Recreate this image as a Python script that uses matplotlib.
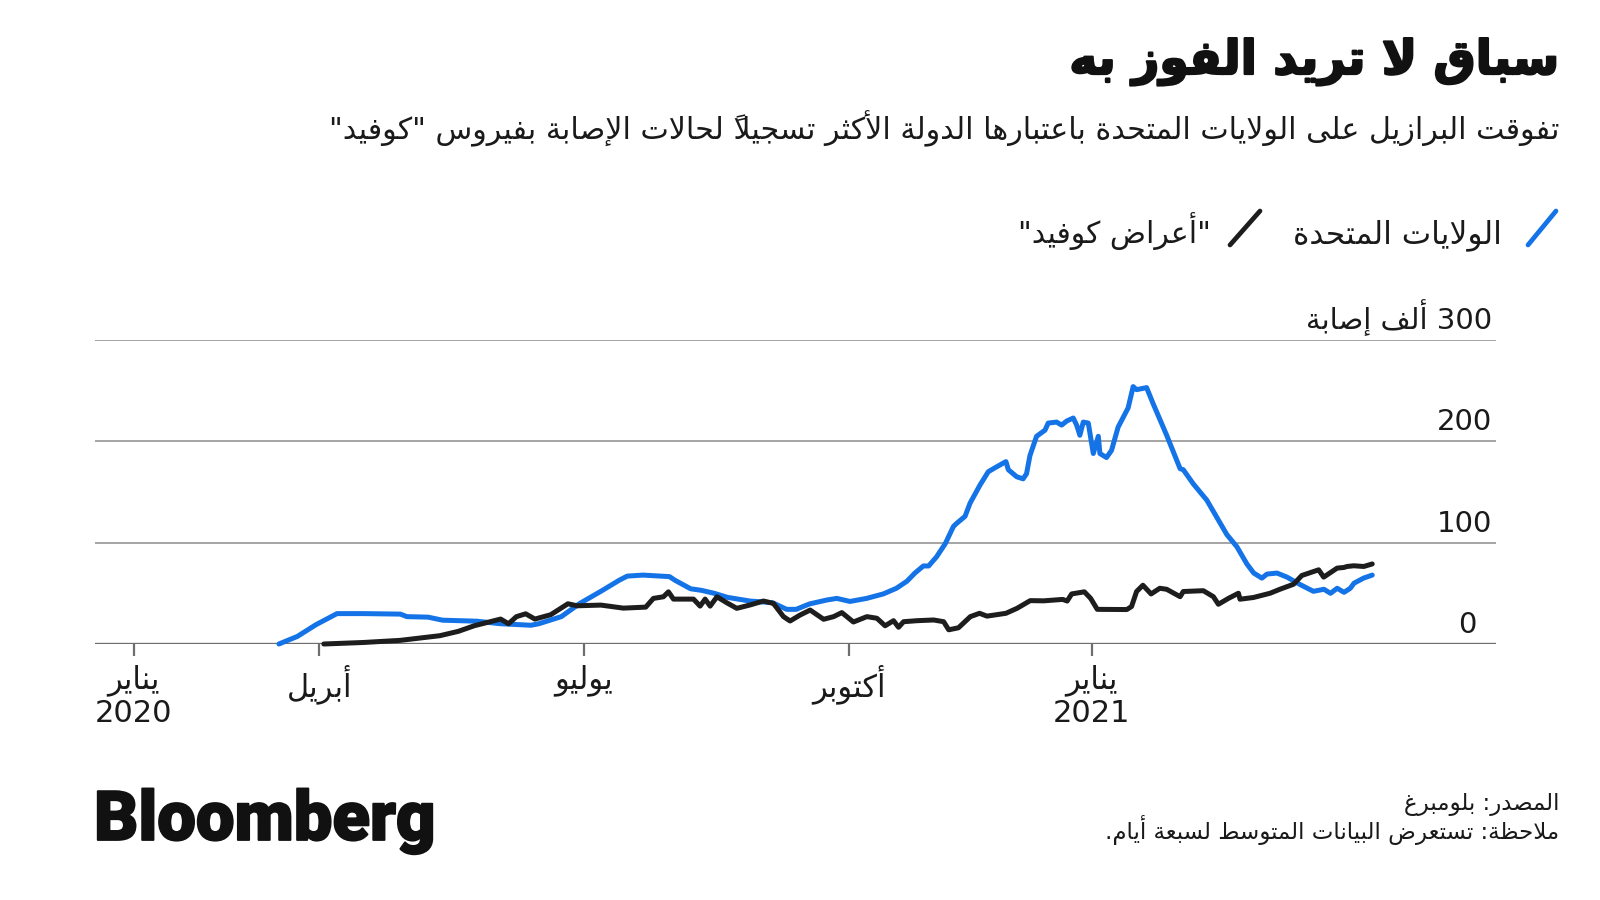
import re
import matplotlib
matplotlib.use("Agg")
import matplotlib.pyplot as plt
from matplotlib.lines import Line2D
import matplotlib.patheffects as pe

# ---------------- data (days since 1 Jan 2020, thousands of cases) ----------------
us_days = [58, 65, 72, 80, 90, 104, 106.5, 114.5, 120, 133,
           142, 153.5, 156.5, 165, 172, 180, 187, 190, 196, 206,
           208, 214, 218, 223, 228, 236.5, 245, 250.4, 254, 259,
           265.6, 269.4, 274.4, 280.7, 287, 292, 296, 299, 302.2, 304.2,
           307.2, 310.5, 313.6, 314.8, 318, 319.9, 323.7, 326.8, 329.4, 333.5,
           334.4, 337.6, 340, 341.3, 342.6, 345.1, 348.3, 349.5, 352.7, 354.6,
           356.5, 359, 360.3, 361.5, 362.8, 364.7, 366.6, 368.5, 369.1, 371.6,
           373.5, 376, 379.8, 381.7, 383, 386.8, 389.3, 394.4, 399.5, 400.7,
           404.5, 409.6, 417.2, 421, 424.8, 427.4, 430.5, 432.4, 436.2, 440,
           445, 450, 454, 456.5, 459, 461.6, 464, 465.4, 469, 472.3]
us_cases = [0, 7.5, 19, 30, 30, 29.5, 27, 26.5, 23.5, 22.5,
            20, 18.5, 20, 27, 40, 52, 63, 67, 68, 66.5,
            63, 54.5, 53, 50, 46, 42.4, 40.8, 34.2, 34.2, 39.5,
            43.4, 45, 42, 45, 49.4, 55, 62, 70, 77, 77,
            86, 99, 116, 119, 126, 139, 157, 170, 174, 180,
            172, 165, 163, 168, 186, 205, 211, 218, 219, 216,
            220, 223, 216, 206, 219, 218, 188, 205, 188, 184,
            191, 214, 233, 254, 251, 253, 237, 206, 173, 172,
            158, 142, 108, 96, 79, 70, 65, 69, 70, 66,
            58.6, 52, 54, 50, 55, 51, 55, 60, 65, 68]

br_days = [75, 90, 104, 119, 126, 132, 142, 145, 148, 151.5, 155,
           161, 167.5, 171, 180, 188.5, 197, 199.9, 203.7, 205.6, 207.5,
           215.1, 217.6, 219.5, 221.4, 224, 227.7, 231.5, 236.5, 241.6, 245.4,
           249.2, 251.7, 255.5, 259.3, 264.4, 268.2, 271.3, 275.7, 280.8, 284.6,
           287.7, 290.9, 292.8, 294.7, 299.8, 306.1, 309.9, 311.8, 315.5, 320,
           323.5, 326.3, 333.5, 337.7, 342.7, 347.8, 355, 356.7, 358.4, 363.2,
           365.6, 368.1, 379.3, 381.1, 383, 385.4, 388.5, 391.8, 394.4, 399.5,
           400.7, 408.3, 412.1, 414, 417.8, 421.6, 422.2, 427.3, 433.6, 437.4,
           442.5, 445.6, 452, 453.9, 459, 461.5, 462.8, 465.3, 469.1, 472.3]
br_cases = [0, 1.5, 3.6, 8.2, 12.5, 18, 24.6, 20, 27, 29.8, 24.6,
            28.9, 39.7, 37.7, 38.4, 35.4, 36.4, 45, 46.6, 51.5, 44.3,
            44.3, 37.4, 44.3, 37.4, 46.6, 40.7, 35.2, 38.5, 42.4, 40,
            27, 22.7, 28.6, 33.5, 24.4, 27, 31, 21.7, 27, 25.4,
            18, 23, 16.5, 22, 23, 23.7, 22, 14, 16, 27,
            30.3, 27.5, 30.3, 35.2, 42.8, 42.6, 44, 42.4, 49.4, 51.5,
            45, 34.2, 34, 37, 51.8, 58, 49.4, 55, 54, 46.7,
            51.8, 52.6, 46.7, 39.2, 45, 50.1, 44.2, 45.9, 50.1, 54.1,
            59, 67.6, 73.2, 66, 74.9, 75.5, 76.5, 77.2, 76.5, 79]

tick_days = [3, 73.3, 173.5, 274, 366]
tick_months = ["يناير", "أبريل", "يوليو", "أكتوبر", "يناير"]
tick_years = ["2020", "", "", "", "2021"]
y_ticks = [0, 100, 200, 300]
y_tick_labels = ["0", "100", "200", "300 ألف إصابة"]

title = "سباق لا تريد الفوز به"
subtitle = "تفوقت البرازيل على الولايات المتحدة باعتبارها الدولة الأكثر تسجيلاً لحالات الإصابة بفيروس \"كوفيد\""
legend_us = "الولايات المتحدة"
legend_br = "\"أعراض كوفيد\""
source = "المصدر: بلومبرغ"
note = "ملاحظة: تستعرض البيانات المتوسط لسبعة أيام."

# ---------------- minimal Arabic shaping + RTL ordering ----------------
_letters = ("\u0621\u0622\u0623\u0624\u0625\u0626\u0627\u0628\u0629\u062A\u062B\u062C"
            "\u062D\u062E\u062F\u0630\u0631\u0632\u0633\u0634\u0635\u0636\u0637\u0638"
            "\u0639\u063A\u0641\u0642\u0643\u0644\u0645\u0646\u0647\u0648\u0649\u064A")
_counts = [1, 2, 2, 2, 2, 4, 2, 4, 2, 4, 4, 4, 4, 4, 2, 2, 2, 2, 4, 4, 4, 4, 4, 4,
           4, 4, 4, 4, 4, 4, 4, 4, 4, 2, 2, 4]
FORMS = {}
_cp = 0xFE80
for _ch, _n in zip(_letters, _counts):
    f = [chr(_cp + k) for k in range(_n)] + [None] * (4 - _n)
    FORMS[_ch] = (f, {1: "U", 2: "R", 4: "D"}[_n])
    _cp += _n
LAMALEF = {"\u0622": ("\uFEF5", "\uFEF6"), "\u0623": ("\uFEF7", "\uFEF8"),
           "\u0625": ("\uFEF9", "\uFEFA"), "\u0627": ("\uFEFB", "\uFEFC")}


def _is_mark(c):
    return "\u064B" <= c <= "\u0652"


def _shape_run(s):
    items = []
    for c in s:
        if _is_mark(c) and items:
            items[-1][1] += c
        else:
            items.append([c, ""])
    merged = []
    i = 0
    while i < len(items):
        c, m = items[i]
        if c == "\u0644" and i + 1 < len(items) and items[i + 1][0] in LAMALEF:
            merged.append(["LA" + items[i + 1][0], m + items[i + 1][1]])
            i += 2
        else:
            merged.append([c, m])
            i += 1

    def jt(it):
        c = it[0]
        if c.startswith("LA"):
            return "R"
        return FORMS[c][1] if c in FORMS else None

    out = []
    for k, it in enumerate(merged):
        t = jt(it)
        tp = jt(merged[k - 1]) if k > 0 else None
        tn = jt(merged[k + 1]) if k + 1 < len(merged) else None
        jp = t in ("D", "R") and tp == "D"
        jn = t == "D" and tn in ("D", "R")
        c = it[0]
        if c.startswith("LA"):
            g = LAMALEF[c[2]][1 if jp else 0]
        elif c in FORMS:
            f = FORMS[c][0]
            if jp and jn:
                g = f[3]
            elif jp:
                g = f[1]
            elif jn:
                g = f[2]
            else:
                g = f[0]
        else:
            g = c
        # in visual (left-to-right) order the zero-width mark precedes its base
        out.append(it[1] + g)
    return "".join(reversed(out))


def ar(s):
    lines = []
    for line in s.split("\n"):
        toks = re.findall(r"[0-9A-Za-z]+(?:[.,][0-9]+)*|[^0-9A-Za-z]+", line)
        vis = [t if re.match(r"[0-9A-Za-z]", t) else _shape_run(t) for t in toks]
        lines.append("".join(reversed(vis)))
    return "\n".join(lines)


# ---------------- figure ----------------
plt.rcParams["font.family"] = ["DejaVu Sans"]
W, H = 1600, 900
fig = plt.figure(figsize=(16, 9), dpi=100)
fig.patch.set_facecolor("white")

BLUE = "#1473e6"
BLACK = "#1d1d1d"
TXT = "#1a1a1a"
GRID = "#8c8c8c"


def fx(px):
    return px / W


def fy(py):
    return 1 - py / H


ax = fig.add_axes([fx(95), fy(644), fx(1496) - fx(95), fy(340) - fy(644)])
ax.set_xlim(-11.7, 519.2)
ax.set_ylim(0, 300)
for sp in ax.spines.values():
    sp.set_visible(False)

for v in y_ticks[1:]:
    ax.axhline(v, color=GRID, lw=1.1, zorder=1)
ax.axhline(0, color="#6e6e6e", lw=2.4, zorder=2)

ax.plot(br_days, br_cases, color=BLACK, lw=3.6, solid_capstyle="round",
        solid_joinstyle="round", zorder=4, clip_on=False)
ax.plot(us_days, us_cases, color=BLUE, lw=3.6, solid_capstyle="round",
        solid_joinstyle="round", zorder=3, clip_on=False)

ax.set_yticks([])
ax.set_xticks(tick_days)
ax.set_xticklabels([ar(m) + ("\n" + y if y else "") for m, y in zip(tick_months, tick_years)],
                   fontsize=22, color=TXT, linespacing=1.15)
ax.tick_params(axis="x", length=8.5, width=1.6, color="#6e6e6e", pad=6)

for v, lab in zip(y_ticks, y_tick_labels):
    dx = -14 if v == 0 else -3
    ax.annotate(ar(lab), xy=(1, v), xycoords=("axes fraction", "data"),
                xytext=(dx, 8), textcoords="offset points",
                ha="right", va="baseline", fontsize=21, color=TXT)

# title / subtitle
fig.text(fx(1559), fy(74), ar(title), ha="right", va="baseline",
         fontsize=34, fontweight="bold", color="#111111",
         path_effects=[pe.withStroke(linewidth=1.6, foreground="#111111")])
fig.text(fx(1559), fy(139), ar(subtitle), ha="right", va="baseline",
         fontsize=21.7, color=TXT)

# legend
fig.add_artist(Line2D([fx(1528), fx(1556)], [fy(245), fy(211)], color=BLUE, lw=3.4,
                      solid_capstyle="round"))
fig.text(fx(1502), fy(243), ar(legend_us), ha="right", va="baseline",
         fontsize=22.5, color=TXT)
fig.add_artist(Line2D([fx(1230), fx(1260)], [fy(245), fy(211)], color=BLACK, lw=3.4,
                      solid_capstyle="round"))
fig.text(fx(1211), fy(243), ar(legend_br), ha="right", va="baseline",
         fontsize=21.5, color=TXT)

# footer
fig.text(fx(94), fy(840), "Bloomberg", ha="left", va="baseline",
         fontsize=49.5, fontweight="heavy", family="Roboto", color="#111111",
         path_effects=[pe.withStroke(linewidth=1.3, foreground="#111111")])
fig.text(fx(1559), fy(810), ar(source), ha="right", va="baseline",
         fontsize=16.5, color=TXT)
fig.text(fx(1559), fy(839), ar(note), ha="right", va="baseline",
         fontsize=16.5, color=TXT)

fig.savefig("out.png", dpi=100, facecolor="white")
